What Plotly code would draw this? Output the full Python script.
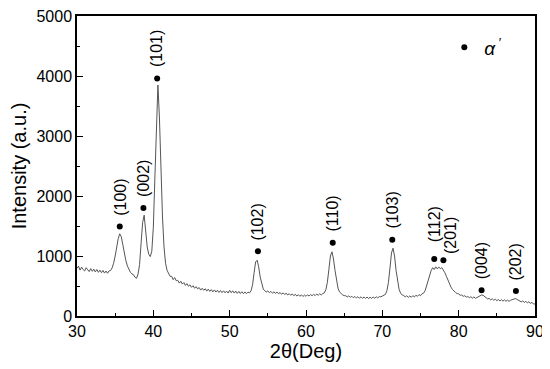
import numpy as np
import plotly.graph_objects as go

# 2-theta sampling grid (deg)
two_theta = np.round(np.arange(30.0, 90.0001, 0.2), 1)

intensity = [
    795, 830, 765, 815, 775, 750, 805, 760, 740, 790,
    745, 780, 735, 775, 728, 765, 722, 760, 715, 750,
    712, 752, 758, 802, 880, 1000, 1150, 1290, 1370, 1320,
    1190, 1040, 925, 835, 772, 728, 702, 688, 645, 628,
    700, 860, 1220, 1560, 1680, 1440, 1150, 1030, 990, 1080,
    1480, 2300, 3200, 3850, 3300, 2400, 1650, 1150, 880, 760,
    710, 660, 662, 605, 640, 588, 595, 548, 580, 532,
    558, 510, 540, 495, 520, 478, 505, 462, 490, 452,
    475, 432, 462, 428, 455, 415, 448, 410, 440, 402,
    435, 400, 430, 392, 425, 390, 420, 386, 415, 382,
    428, 388, 420, 382, 415, 378, 410, 375, 405, 372,
    402, 372, 398, 385, 420, 520, 720, 900, 930, 820,
    650, 520, 450, 420, 400, 418, 388, 410, 380, 402,
    378, 400, 370, 392, 362, 386, 358, 380, 350, 372,
    345, 368, 338, 362, 332, 356, 328, 352, 325, 350,
    328, 354, 332, 358, 338, 362, 340, 366, 345, 370,
    350, 375, 385, 440, 560, 780, 1000, 1070, 950, 760,
    580, 460, 400, 370, 352, 340, 338, 318, 336, 310,
    330, 304, 326, 300, 322, 296, 320, 294, 318, 292,
    316, 290, 314, 292, 318, 295, 322, 298, 326, 318,
    330, 340, 360, 420, 560, 800, 1050, 1130, 1000, 760,
    560, 440, 380, 350, 342, 318, 338, 310, 334, 312,
    340, 318, 346, 328, 356, 340, 370, 380, 420, 500,
    600, 700, 760, 805, 775, 820, 785, 815, 790, 805,
    770, 720, 660, 590, 530, 480, 440, 410, 390, 375,
    368, 345, 350, 328, 338, 315, 325, 305, 322, 298,
    318, 295, 312, 318, 335, 350, 345, 325, 305, 285,
    292, 268, 287, 262, 280, 255, 276, 250, 272, 248,
    268, 245, 265, 244, 262, 272, 285, 290, 280, 265,
    262, 235, 252, 226, 245, 218, 238, 208, 228, 200,
    200,
]

# Peak markers (alpha' phase)
peak_labels = ["(100)", "(002)", "(101)", "(102)", "(110)", "(103)",
               "(112)", "(201)", "(004)", "(202)"]
peak_x = [35.6, 38.7, 40.5, 53.7, 63.5, 71.3, 76.8, 78.0, 83.0, 87.5]
peak_y = [1490, 1800, 3960, 1080, 1220, 1270, 950, 930, 430, 415]

font_family = "Arial, Liberation Sans, Helvetica, sans-serif"

fig = go.Figure()
fig.add_trace(go.Scatter(
    x=two_theta, y=intensity, mode="lines",
    line=dict(color="#555555", width=1), showlegend=False, hoverinfo="skip"))
fig.add_trace(go.Scatter(
    x=peak_x, y=peak_y, mode="markers",
    marker=dict(color="black", size=6), name="<i>α</i><sup> ′</sup>",
    showlegend=True))

label_yshift = [9, 9, 9, 9, 9, 9, 15, 4, 9, 9]
label_xshift = [0, 0, 0, 0, 0, 0, 0, 7, 0, 0]
for lab, px, py, ys, xs in zip(peak_labels, peak_x, peak_y, label_yshift, label_xshift):
    fig.add_annotation(x=px, y=py, text=lab, textangle=-90, showarrow=False,
                       xanchor="center", yanchor="bottom", yshift=ys, xshift=xs,
                       font=dict(size=16, color="black", family=font_family))

axis_common = dict(showline=True, linecolor="black", linewidth=1.5, mirror=True,
                   ticks="inside", ticklen=6, tickwidth=1, tickcolor="black",
                   showgrid=False, zeroline=False, automargin=False,
                   ticklabeloverflow="allow",
                   tickfont=dict(size=16, color="black", family=font_family))

fig.update_xaxes(range=[30, 90], tickvals=[30, 40, 50, 60, 70, 80, 90],
                 minor=dict(ticks="inside", ticklen=3, tickvals=[35, 45, 55, 65, 75, 85],
                            tickcolor="black"),
                 title=dict(text="2θ(Deg)", font=dict(size=20, color="black", family=font_family),
                            standoff=2),
                 **axis_common)
fig.update_yaxes(range=[0, 5000], tickvals=[0, 1000, 2000, 3000, 4000, 5000],
                 minor=dict(ticks="inside", ticklen=3,
                            tickvals=[500, 1500, 2500, 3500, 4500], tickcolor="black"),
                 title=dict(text="Intensity (a.u.)", font=dict(size=20, color="black", family=font_family),
                            standoff=6),
                 **axis_common)

# the page body adds an 8px offset, so the figure is 8px smaller and margins compensate
fig.update_layout(
    width=542, height=361,
    margin=dict(l=69, r=15, t=8, b=53),
    plot_bgcolor="white", paper_bgcolor="white",
    font=dict(family=font_family, color="black"),
    legend=dict(x=0.802, y=0.895, xanchor="left", yanchor="middle",
                bgcolor="rgba(0,0,0,0)", borderwidth=0,
                font=dict(size=19, color="black", family=font_family)),
)

fig.write_html("out.html")
